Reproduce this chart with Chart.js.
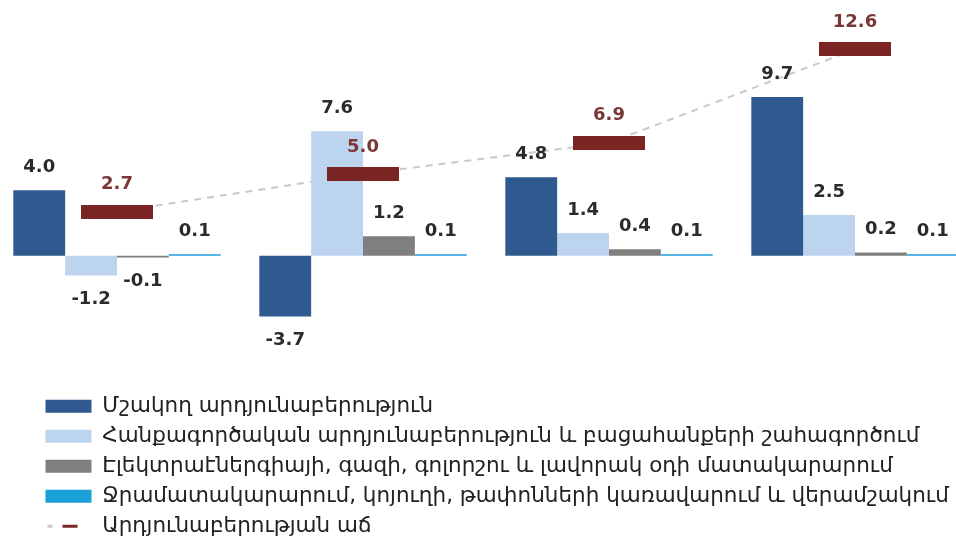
<!DOCTYPE html>
<html>
<head>
<meta charset="utf-8">
<script src="https://cdn.jsdelivr.net/npm/chart.js@4.4.1/dist/chart.umd.min.js"></script>
<style>
  html, body { margin: 0; padding: 0; background: #fff; overflow: hidden; }
  #wrap { position: absolute; left: -7px; top: 0; width: 986px; height: 547px; }
</style>
</head>
<body>
<div id="wrap"><canvas id="chart"></canvas></div>
<script>
// Chart data
const categories = ['1', '2', '3', '4'];
const manufacturing = [4.0, -3.7, 4.8, 9.7];
const mining = [-1.2, 7.6, 1.4, 2.5];
const electricity = [-0.1, 1.2, 0.4, 0.2];
const water = [0.1, 0.1, 0.1, 0.1];
const growth = [2.7, 5.0, 6.9, 12.6];

const seriesNames = [
  'Մշակող արդյունաբերություն',
  'Հանքագործական արդյունաբերություն և բացահանքերի շահագործում',
  'Էլեկտրաէներգիայի, գազի, գոլորշու և լավորակ օդի մատակարարում',
  'Ջրամատակարարում, կոյուղի, թափոնների կառավարում և վերամշակում',
  'Արդյունաբերության աճ'
];

const LABEL_FONT = 'bold 18px "DejaVu Sans", sans-serif';
const BROWN = '#7a2424';

// flat marker used for the growth points
const marker = document.createElement('canvas');
marker.width = 72;
marker.height = 14;
const mctx = marker.getContext('2d');
mctx.fillStyle = BROWN;
mctx.fillRect(0, 0, 72, 14);

// value labels on top of bars / markers
const valueLabels = {
  id: 'valueLabels',
  afterDatasetsDraw(chart) {
    const ctx = chart.ctx;
    ctx.save();
    ctx.font = LABEL_FONT;
    ctx.textAlign = 'center';
    ctx.textBaseline = 'middle';
    chart.data.datasets.forEach((ds, i) => {
      if (ds.noLabels) return;
      const meta = chart.getDatasetMeta(i);
      meta.data.forEach((el, j) => {
        const v = ds.data[j];
        let y;
        if (ds.type === 'line') {
          ctx.fillStyle = '#7b3636';
          y = el.y - 27;
        } else {
          ctx.fillStyle = '#2b2b2b';
          y = v >= 0 ? el.y - 23 : el.y + 24;
        }
        ctx.fillText(v.toFixed(1), el.x, y);
      });
    });
    ctx.restore();
  }
};

// move the legend to the right and draw the growth symbol
const legendTweak = {
  id: 'legendTweak',
  afterLayout(chart) {
    chart.legend.left += 44;
    chart.legend.right += 44;
  },
  afterDraw(chart) {
    const lg = chart.legend;
    const idx = lg.legendItems.findIndex(it => it.text === seriesNames[4]);
    if (idx < 0) return;
    const hb = lg.legendHitBoxes[idx];
    const ctx = chart.ctx;
    const y = hb.top + hb.height / 2;
    ctx.save();
    ctx.lineWidth = 3;
    ctx.strokeStyle = '#c9c9c9';
    ctx.beginPath();
    ctx.moveTo(hb.left + 2, y);
    ctx.lineTo(hb.left + 7, y);
    ctx.stroke();
    ctx.strokeStyle = BROWN;
    ctx.beginPath();
    ctx.moveTo(hb.left + 17, y);
    ctx.lineTo(hb.left + 32, y);
    ctx.stroke();
    ctx.restore();
  }
};

new Chart(document.getElementById('chart'), {
  type: 'bar',
  data: {
    labels: categories,
    datasets: [
      { label: seriesNames[0], data: manufacturing, backgroundColor: '#2f5a8f', order: 2 },
      { label: seriesNames[1], data: mining, backgroundColor: '#bcd4ee', order: 2 },
      { label: seriesNames[2], data: electricity, backgroundColor: '#7f7f7f', order: 2 },
      { label: seriesNames[3], data: water, backgroundColor: '#1ba1da', order: 2 },
      {
        label: seriesNames[4], data: growth, type: 'line', showLine: false,
        pointStyle: marker, pointRadius: 1, pointHoverRadius: 1, pointBorderWidth: 0,
        borderColor: BROWN, backgroundColor: BROWN, order: 0
      },
      {
        label: 'connector', data: growth, type: 'line', noLabels: true,
        borderColor: '#c9c9c9', borderWidth: 2, borderDash: [7, 6],
        pointRadius: 0, fill: false, order: 5
      }
    ]
  },
  options: {
    responsive: true,
    maintainAspectRatio: false,
    animation: false,
    datasets: {
      bar: { barPercentage: 1, categoryPercentage: 0.843 }
    },
    layout: { padding: { top: 26.4, bottom: 0, left: 0, right: 0 } },
    scales: {
      x: { display: false, offset: true },
      y: { display: false, min: -8, max: 14 }
    },
    plugins: {
      tooltip: { enabled: false },
      legend: {
        position: 'bottom',
        align: 'start',
        labels: {
          boxWidth: 46,
          boxHeight: 13,
          padding: 8.5,
          color: '#222',
          font: { family: "'DejaVu Sans', sans-serif", size: 21.5 },
          filter: item => item.text !== 'connector',
          sort: (a, b) => a.datasetIndex - b.datasetIndex,
          generateLabels(chart) {
            const items = Chart.defaults.plugins.legend.labels.generateLabels(chart);
            items.forEach(it => {
              it.lineWidth = 0;
              if (it.text === seriesNames[4]) {
                it.fillStyle = 'rgba(0,0,0,0)';
              }
            });
            return items;
          }
        }
      }
    }
  },
  plugins: [valueLabels, legendTweak]
});
</script>
</body>
</html>
